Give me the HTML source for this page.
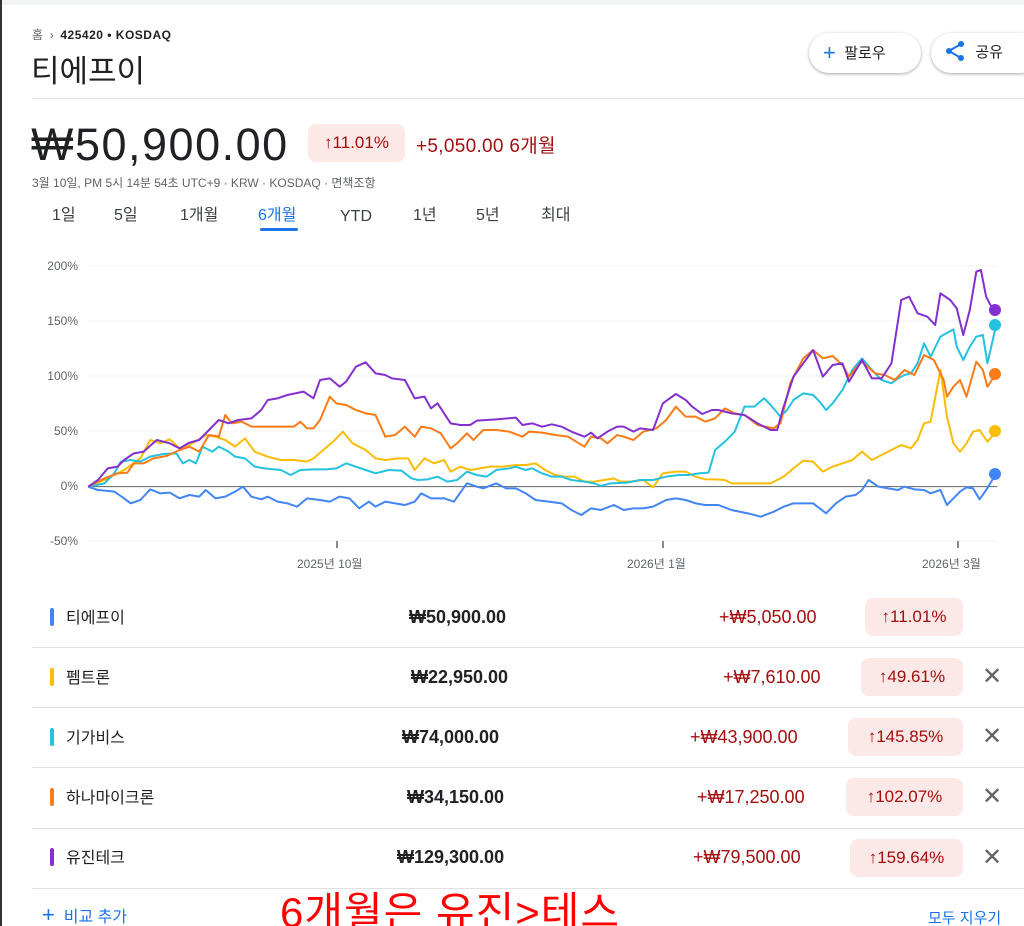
<!DOCTYPE html>
<html><head><meta charset="utf-8"><style>
*{margin:0;padding:0;box-sizing:border-box}
html,body{width:1024px;height:926px;overflow:hidden}
body{background:#fff;position:relative;font-family:"Liberation Sans","Noto Sans CJK KR",sans-serif;color:#202124}
.a{position:absolute;white-space:nowrap}
.badge{position:absolute;background:#fce8e6;color:#a50e0e;border-radius:8px;font-size:17px;text-align:center;height:38px;line-height:38px}
.sep{position:absolute;left:32px;right:0;height:1px;background:#e0e0e0}
.lab{position:absolute;font-size:12px;color:#5f6368;text-align:right;width:50px}
.bar{position:absolute;left:50px;width:4px;height:18px;border-radius:2px}
.x{position:absolute;left:982px;font-size:24px;color:#5f6368;font-weight:300}
.tab{position:absolute;top:0;line-height:22px;height:22px}
.num{font-size:18px;font-weight:600;color:#202124}
</style></head><body>
<div class="a" style="left:0;top:0;width:1024px;height:5px;background:#f1f3f4"></div>
<div class="a" style="left:0;top:0;width:2px;height:926px;background:#333"></div>
<div class="a" style="left:32px;top:26px;font-size:12px;color:#5f6368">홈 &nbsp;›&nbsp; <b style="color:#202124;letter-spacing:0.5px">425420 • KOSDAQ</b></div>
<div class="a" style="left:31px;top:46px;font-size:31px">티에프이</div>
<div class="a" style="left:809px;top:33px;width:112px;height:40px;border-radius:20px;box-shadow:0 1px 3px rgba(0,0,0,.35);font-size:15px;line-height:40px;padding-left:14px"><span style="color:#1a73e8;font-size:22px;vertical-align:-2px">+</span>&nbsp; 팔로우</div>
<div class="a" style="left:931px;top:33px;width:110px;height:40px;border-radius:20px;box-shadow:0 1px 3px rgba(0,0,0,.35);font-size:15px;line-height:40px;padding-left:12px"><svg width="24" height="24" viewBox="0 0 24 24" style="vertical-align:-6px"><circle cx="18" cy="5" r="3" fill="#1a73e8"/><circle cx="6" cy="12" r="3" fill="#1a73e8"/><circle cx="18" cy="19" r="3" fill="#1a73e8"/><path d="M18 5L6 12L18 19" stroke="#1a73e8" stroke-width="2" fill="none"/></svg>&nbsp; 공유</div>
<div class="a" style="left:32px;top:98px;width:992px;height:1px;background:#e0e0e0"></div>
<div class="a" style="left:31px;top:119px;font-size:45px;letter-spacing:1.5px">₩50,900.00</div>
<div class="badge" style="left:308px;top:124px;width:97px">↑11.01%</div>
<div class="a" style="left:416px;top:131px;font-size:19px;color:#a50e0e;letter-spacing:0.3px">+5,050.00 6개월</div>
<div class="a" style="left:32px;top:174px;font-size:12px;color:#5f6368">3월 10일, PM 5시 14분 54초 UTC+9 · KRW · KOSDAQ · 면책조항</div>
<div class="a" style="top:205px;left:0;width:700px;height:24px;font-size:16px;color:#3c4043">
<span class="tab" style="left:52px">1일</span><span class="tab" style="left:114px">5일</span><span class="tab" style="left:180px">1개월</span><span class="tab" style="left:258px;color:#1a73e8">6개월</span><span class="tab" style="left:340px;top:1px">YTD</span><span class="tab" style="left:413px">1년</span><span class="tab" style="left:476px">5년</span><span class="tab" style="left:541px">최대</span></div>
<div class="a" style="left:260px;top:228px;width:38px;height:3px;background:#1a73e8;border-radius:2px"></div>

<div class="lab" style="left:28px;top:259px">200%</div>
<div class="lab" style="left:28px;top:314px">150%</div>
<div class="lab" style="left:28px;top:369px">100%</div>
<div class="lab" style="left:28px;top:424px">50%</div>
<div class="lab" style="left:28px;top:479px">0%</div>
<div class="lab" style="left:28px;top:534px">-50%</div>
<div class="a" style="left:297px;top:555px;font-size:12px;color:#5f6368">2025년 10월</div>
<div class="a" style="left:627px;top:555px;font-size:12px;color:#5f6368">2026년 1월</div>
<div class="a" style="left:922px;top:555px;font-size:12px;color:#5f6368">2026년 3월</div>
<svg class="a" style="left:0;top:0" width="1024" height="600">
<g stroke="#f1f3f4" stroke-width="1">
<line x1="88" y1="266" x2="997" y2="266"/><line x1="88" y1="321" x2="997" y2="321"/><line x1="88" y1="376" x2="997" y2="376"/><line x1="88" y1="431" x2="997" y2="431"/><line x1="88" y1="541" x2="997" y2="541"/></g>
<g stroke="#5f6368" stroke-width="1.5"><line x1="337" y1="541" x2="337" y2="548"/><line x1="663" y1="541" x2="663" y2="548"/><line x1="958" y1="541" x2="958" y2="548"/></g>
</svg>
<svg class="a" style="left:0;top:250px" width="1024" height="330" viewBox="0 0 1568 990" preserveAspectRatio="none">
<line x1="135" y1="710" x2="1527" y2="710" stroke="#5f6368" stroke-width="1" vector-effect="non-scaling-stroke"/>
<g fill="none" stroke-width="2" stroke-linejoin="round">
<polyline vector-effect="non-scaling-stroke" stroke="#4285f4" points="135,710 150,720 175,725 190,745 200,760 215,750 230,718 245,730 260,728 275,745 290,735 305,740 315,720 330,745 345,740 360,725 372,710 385,740 400,748 410,740 425,755 440,760 455,770 470,745 490,750 505,755 520,740 535,745 550,775 565,755 575,770 590,755 605,760 620,765 635,755 645,730 660,745 680,745 695,755 715,700 730,710 740,715 760,700 775,715 790,715 805,730 820,750 840,755 860,760 875,780 890,795 905,775 920,780 940,765 955,780 970,775 985,775 1000,770 1020,750 1035,745 1050,750 1065,760 1080,765 1100,765 1120,780 1145,790 1165,800 1185,785 1200,770 1215,760 1245,760 1265,790 1280,760 1295,740 1310,735 1320,720 1330,690 1345,710 1360,715 1375,720 1385,710 1400,718 1415,720 1425,730 1440,720 1450,765 1460,745 1470,725 1480,712 1490,715 1500,748 1510,720 1525,672"/>
<polyline vector-effect="non-scaling-stroke" stroke="#fbbc04" points="135,710 160,690 190,660 215,625 230,570 245,580 260,568 275,595 295,580 315,555 330,560 345,570 360,590 375,565 390,605 410,620 430,630 450,630 470,635 480,625 495,600 510,575 525,545 540,580 560,600 575,625 590,630 610,625 625,625 635,660 650,625 665,640 680,630 690,665 705,650 720,660 735,655 750,650 770,650 790,645 805,645 820,640 835,660 850,675 865,680 880,680 895,695 910,695 925,690 940,685 950,695 965,695 985,690 1000,712 1015,670 1035,665 1050,665 1065,680 1080,688 1095,688 1110,690 1120,700 1135,700 1155,700 1180,700 1200,680 1215,655 1230,632 1245,635 1260,665 1275,650 1290,640 1305,630 1320,605 1335,630 1350,615 1365,600 1380,585 1395,595 1405,570 1415,520 1425,515 1440,360 1450,500 1460,580 1470,605 1480,580 1490,545 1500,540 1512,575 1525,545"/>
<polyline vector-effect="non-scaling-stroke" stroke="#24c1e0" points="135,710 160,700 175,670 185,635 200,630 215,635 230,620 250,612 270,610 280,640 290,630 300,640 310,590 325,605 335,590 350,605 360,620 375,625 390,650 405,655 430,660 445,675 460,660 480,658 500,658 515,655 530,640 545,650 560,660 575,670 595,660 615,662 630,685 640,690 655,688 670,680 685,695 700,690 715,665 730,675 745,680 760,660 780,655 790,650 805,660 815,655 830,670 845,680 860,680 875,690 895,695 910,700 920,708 935,700 960,698 980,690 1000,690 1020,680 1040,675 1055,675 1070,670 1085,668 1095,600 1110,575 1125,545 1140,470 1155,470 1170,445 1180,465 1195,500 1205,480 1215,450 1230,430 1245,435 1255,455 1265,480 1275,460 1290,420 1305,360 1320,325 1335,360 1350,390 1365,400 1375,385 1385,375 1395,370 1405,340 1415,280 1425,320 1440,260 1460,238 1465,290 1475,330 1485,290 1495,260 1505,255 1512,340 1525,228"/>
<polyline vector-effect="non-scaling-stroke" stroke="#fa7b17" points="135,710 160,685 180,670 195,668 205,640 220,640 235,625 255,618 275,600 290,590 305,605 320,555 335,560 345,495 355,520 370,515 385,530 420,530 450,530 460,515 470,535 480,535 490,510 505,440 515,460 530,465 545,480 560,490 575,495 590,560 605,555 620,530 635,560 645,530 660,535 675,550 690,595 700,580 715,550 725,570 740,540 760,540 780,545 800,560 810,545 830,548 850,555 870,560 895,590 905,560 920,565 930,580 945,555 955,560 970,570 985,545 1005,535 1020,510 1035,470 1050,500 1065,500 1080,515 1095,505 1110,475 1125,490 1140,495 1160,525 1185,535 1195,520 1210,400 1230,325 1245,300 1260,325 1275,318 1290,345 1300,380 1310,355 1320,335 1340,370 1355,375 1370,390 1385,360 1400,375 1415,315 1430,330 1445,390 1450,440 1460,410 1470,390 1480,440 1495,335 1505,360 1512,410 1525,372"/>
<polyline vector-effect="non-scaling-stroke" stroke="#8430ce" points="135,710 150,690 165,655 180,650 190,630 205,610 220,605 240,570 260,580 275,595 290,578 305,570 320,540 335,510 350,520 365,510 385,505 400,480 410,450 425,445 440,435 465,425 480,445 490,390 505,385 520,410 530,395 545,350 560,337 575,370 590,375 600,385 620,390 635,445 650,440 660,475 670,460 690,520 705,525 720,525 730,512 760,508 790,503 800,525 815,520 830,530 845,523 860,530 875,545 895,560 905,548 915,565 930,545 945,530 955,530 970,545 980,535 1000,540 1015,460 1035,432 1050,450 1060,470 1075,492 1090,480 1100,480 1120,490 1140,495 1160,520 1180,540 1190,540 1200,470 1215,380 1230,340 1245,300 1260,380 1275,345 1290,340 1300,395 1320,330 1335,385 1350,385 1365,340 1380,150 1392,140 1405,190 1420,200 1432,225 1440,130 1455,150 1465,175 1475,255 1485,180 1495,65 1502,60 1510,140 1518,170 1525,182"/>
</g></svg>
<svg class="a" style="left:0;top:0" width="1024" height="600">
<circle cx="995" cy="474" r="6" fill="#4285f4"/><circle cx="995" cy="431" r="6" fill="#fbbc04"/><circle cx="995" cy="374" r="6" fill="#fa7b17"/><circle cx="995" cy="325" r="6" fill="#24c1e0"/><circle cx="995" cy="310" r="6" fill="#8430ce"/>
</svg>

<div class="sep" style="top:647px"></div><div class="sep" style="top:707px"></div><div class="sep" style="top:767px"></div><div class="sep" style="top:828px"></div><div class="sep" style="top:888px"></div>

<div class="bar" style="top:608px;background:#4285f4"></div>
<div class="a" style="left:66px;top:604px;font-size:16px">티에프이</div>
<div class="a num" style="left:409px;top:607px">₩50,900.00</div>
<div class="a" style="left:719px;top:607px;font-size:18px;color:#a50e0e">+₩5,050.00</div>
<div class="badge" style="left:865px;top:598px;width:98px">↑11.01%</div>

<div class="bar" style="top:668px;background:#fbbc04"></div>
<div class="a" style="left:66px;top:664px;font-size:16px">펨트론</div>
<div class="a num" style="left:411px;top:667px">₩22,950.00</div>
<div class="a" style="left:723px;top:667px;font-size:18px;color:#a50e0e">+₩7,610.00</div>
<div class="badge" style="left:861px;top:658px;width:102px">↑49.61%</div>
<div class="x" style="top:662px">✕</div>

<div class="bar" style="top:728px;background:#24c1e0"></div>
<div class="a" style="left:66px;top:724px;font-size:16px">기가비스</div>
<div class="a num" style="left:402px;top:727px">₩74,000.00</div>
<div class="a" style="left:690px;top:727px;font-size:18px;color:#a50e0e">+₩43,900.00</div>
<div class="badge" style="left:848px;top:718px;width:115px">↑145.85%</div>
<div class="x" style="top:722px">✕</div>

<div class="bar" style="top:788px;background:#fa7b17"></div>
<div class="a" style="left:66px;top:784px;font-size:16px">하나마이크론</div>
<div class="a num" style="left:407px;top:787px">₩34,150.00</div>
<div class="a" style="left:697px;top:787px;font-size:18px;color:#a50e0e">+₩17,250.00</div>
<div class="badge" style="left:846px;top:778px;width:117px">↑102.07%</div>
<div class="x" style="top:782px">✕</div>

<div class="bar" style="top:848px;background:#8430ce"></div>
<div class="a" style="left:66px;top:844px;font-size:16px">유진테크</div>
<div class="a num" style="left:397px;top:847px">₩129,300.00</div>
<div class="a" style="left:693px;top:847px;font-size:18px;color:#a50e0e">+₩79,500.00</div>
<div class="badge" style="left:850px;top:839px;width:113px">↑159.64%</div>
<div class="x" style="top:843px">✕</div>

<div class="a" style="left:42px;top:902px;font-size:16px;color:#1a73e8"><span style="font-size:22px">+</span>&nbsp; 비교 추가</div>
<div class="a" style="left:280px;top:879px;font-size:42px;color:#ff0000;letter-spacing:1px">6개월은 유진&gt;테스</div>
<div class="a" style="left:928px;top:907px;font-size:15px;color:#1a73e8">모두 지우기</div>
</body></html>
